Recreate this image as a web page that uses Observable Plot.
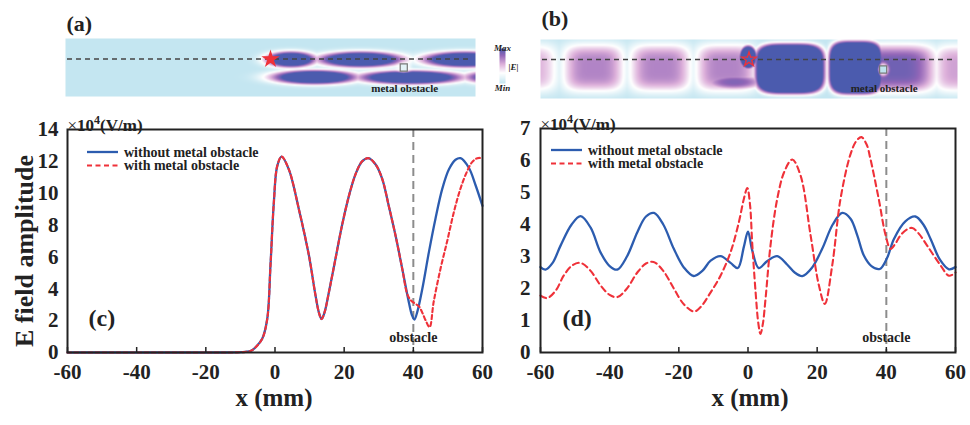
<!DOCTYPE html>
<html><head><meta charset="utf-8">
<script src="https://cdn.jsdelivr.net/npm/d3@7"></script>
<script src="https://cdn.jsdelivr.net/npm/@observablehq/plot@0.6"></script>
<style>
body{margin:0;background:#fff}
#root{position:relative;width:970px;height:425px;overflow:hidden;background:#fff;font-family:"Liberation Serif",serif}
.abs{position:absolute}
</style></head><body><div id="root"></div>
<script>
// ---------- data ----------
const xTicks = [-60, -40, -20, 0, 20, 40, 60];
const yTicksC = [0, 2, 4, 6, 8, 10, 12, 14];
const yTicksD = [0, 1, 2, 3, 4, 5, 6, 7];
const obstacleX = 40;
const seriesNames = ["without metal obstacle", "with metal obstacle"];
const unitLabel = "×10^4(V/m)";

// panel (c): [x mm, |E| ×1e4 V/m]
const cBlue = [[-60,0],[-45,0],[-30,0],[-18,0],[-11,0.01],[-8.5,0.04],[-7,0.1],[-5.6,0.33],[-3.7,0.86],[-2.25,2.1],[-1.3,5.5],[-0.34,9.4],[0.64,11.7],[1.9,12.3],[4,11.5],[6.9,9.0],[9.8,6.1],[11.7,3.6],[12.7,2.5],[13.45,2.1],[14.3,2.5],[15.6,3.8],[17.5,5.9],[19.4,8.0],[21.4,9.85],[23.3,11.2],[25.2,12.0],[27,12.2],[29.1,11.8],[31,10.9],[32.9,9.2],[34.9,7.3],[36.8,5.25],[38.7,3.16],[39.6,2.35],[40.3,2.07],[41.2,2.6],[42.6,4.0],[44.5,6.3],[46.4,8.4],[48.4,10.3],[50.3,11.5],[52.2,12.1],[53.65,12.2],[56.05,11.6],[58,10.5],[60,9.2]];
const cRed = [[-60,0],[-45,0],[-30,0],[-18,0],[-11,0.01],[-8.5,0.04],[-7,0.1],[-5.6,0.33],[-3.7,0.86],[-2.25,2.1],[-1.3,5.5],[-0.34,9.4],[0.64,11.7],[1.9,12.3],[4,11.5],[6.9,9.0],[9.8,6.1],[11.7,3.6],[12.7,2.5],[13.45,2.1],[14.3,2.5],[15.6,3.8],[17.5,5.9],[19.4,8.0],[21.4,9.85],[23.3,11.2],[25.2,12.0],[27,12.2],[29.1,11.8],[31,10.9],[32.9,9.2],[34.9,7.3],[36.8,5.25],[38.2,3.7],[39.2,3.3],[40.3,3.1],[41.6,2.9],[42.6,2.5],[43.7,1.95],[44.7,1.59],[45.9,3.2],[47.9,5.3],[49.8,7.0],[51.7,8.8],[53.65,10.3],[55.6,11.4],[57,11.95],[58.5,12.2],[60,12.2]];

// panel (d)
const dBlue = [[-60,2.67],[-58.55,2.59],[-56.5,2.8],[-54.2,3.34],[-51,4.0],[-48.4,4.26],[-45.5,3.9],[-42.65,3.13],[-40,2.7],[-37.8,2.59],[-35,3.0],[-32,3.76],[-29.5,4.25],[-27.2,4.36],[-24.5,4.0],[-21.45,3.24],[-18.5,2.65],[-15.7,2.39],[-13.2,2.55],[-10.8,2.87],[-7.95,3.01],[-5.05,2.8],[-2.94,2.64],[-1.2,3.3],[0,3.78],[1.2,3.2],[3.1,2.64],[5.6,2.86],[8.45,3.01],[11.3,2.75],[13.5,2.5],[15.7,2.39],[18.5,2.65],[21.45,3.24],[24.5,4.0],[27.25,4.36],[29.65,4.18],[31.6,3.66],[33.5,3.03],[35.7,2.7],[38.1,2.61],[40.2,2.95],[42.2,3.55],[45.5,4.1],[48.4,4.25],[50.7,4.0],[52.8,3.55],[55.5,2.9],[58.1,2.6],[60,2.67]];
const dRed = [[-60,1.78],[-58.1,1.7],[-55.5,1.95],[-53.3,2.4],[-50.8,2.72],[-48.4,2.8],[-45.5,2.55],[-42.65,2.1],[-40,1.8],[-37.8,1.73],[-35,2.0],[-32,2.5],[-29.5,2.78],[-27.3,2.83],[-24.5,2.55],[-21.45,2.0],[-18.5,1.5],[-15.6,1.28],[-13.7,1.42],[-10.8,1.88],[-7.95,2.4],[-5.05,3.13],[-2.65,4.07],[-1.2,4.8],[-0.2,5.14],[0.6,4.6],[1.2,3.45],[2.2,1.88],[3.0,0.9],[3.6,0.58],[4.3,0.9],[5.07,1.68],[6.5,3.34],[8.45,4.8],[10.5,5.65],[12.8,6.03],[15.2,5.53],[18.1,3.66],[20.5,2.1],[22.2,1.52],[24.35,2.72],[26.75,4.8],[29.65,6.2],[31.4,6.62],[32.8,6.73],[34.3,6.5],[35.4,6.05],[37.8,4.8],[39.8,3.66],[41.2,3.24],[42.6,3.4],[44.1,3.66],[46,3.85],[47.5,3.89],[49.5,3.7],[51.8,3.34],[55.7,2.72],[58.1,2.4],[60,2.5]];

// field maps (a),(b): blobs [cx mm, cy, rx, ry, amplitude, shape q, sharpness s]
const probeY = 20.5;
const sourceA = {x: 0, y: 20.7};
const sourceB = {x: 0, y: 20};
const obstacleA = {x: 39, y: 29};
const obstacleB = {x: 38.6, y: 30};
const blobsA = [[6,21,7.5,8,1.5,2,1.5],[26.4,21,12.7,8,1.5,2,1.5],[57,21,12.7,8,1.5,2,1.5],[12.9,38.7,12.8,7.2,1.5,2,1.5],[41,38.9,15.5,7,1.5,2,1.5],[70,38.7,12.8,7.2,1.5,2,1.5]];
const holesA = [[39,29,2.2,5]];
const blobsB = [[-64,28.5,9,24,0.55,4,1],[-44.7,28.5,9,24,0.7,4,1],[-25.5,28.5,9,24,0.7,4,1],[-6.5,28.5,9,24,0.7,4,1],[-4.3,42.5,9,8,0.85,2,1.5],[-0.25,17.7,2.45,11.4,1.8,2,2],[11.8,29.3,10,25,1.8,4,2],[30.7,28.2,7.7,26.5,1.8,4,2],[42,29,12,24,0.9,4,1],[61,29,8,24,0.6,4,1]];
const holesB = [[38.6,30,1.6,6.5]];
const fieldStops = [0, 0.3, 0.55, 0.8, 1];
const fieldColors = ["#c4e6f1", "#ffffff", "#ddb0da", "#9467b8", "#4b5bae"];

// ---------- drawing ----------
const root = document.getElementById("root");
const font = "Liberation Serif";
const ink = "#222";
const blueColor = "#2c5caf";
const redColor = "#ef3139";
const baseStyle = {fontFamily: font, background: "transparent", maxWidth: "none", overflow: "visible", color: ink};
const colorScale = {type: "linear", domain: fieldStops, range: fieldColors, clamp: true, interpolate: "rgb"};

function place(el, left, top) {
  const d = document.createElement("div");
  d.className = "abs"; d.style.left = left + "px"; d.style.top = top + "px";
  d.appendChild(el); root.appendChild(d); return d;
}

function field(blobs, holes) {
  return (x, y) => {
    let v = 0;
    for (const [cx, cy, rx, ry, a, q, s] of blobs) {
      const d = Math.pow(Math.abs((x - cx) / rx), q) + Math.pow(Math.abs((y - cy) / ry), q);
      v = Math.max(v, a * Math.exp(-Math.pow(d, s)));
    }
    for (const [hx, hy, hr, hry] of holes) {
      const d = ((x - hx) / hr) ** 2 + ((y - hy) / hry) ** 2;
      const h = Math.exp(-d * d);
      v = v * (1 - h) + 0.3 * h;
    }
    return v;
  };
}

function heat(o) {
  return Plot.plot({
    width: o.width, height: 100,
    marginLeft: o.mL, marginRight: o.mR, marginTop: o.mT, marginBottom: o.mB,
    x: {domain: [-60, 60], axis: null},
    y: {domain: [o.h, 0], axis: null},
    color: colorScale,
    style: baseStyle,
    marks: [
      Plot.raster({fill: field(o.blobs, o.holes), x1: -60, x2: 60, y1: 0, y2: o.h}),
      Plot.ruleY([o.probe], {y: d => d, stroke: "#444", strokeWidth: 1.7, strokeDasharray: "5,4", insetLeft: 2, insetRight: 4}),
      Plot.dot([o.obstacle], {x: "x", y: "y", symbol: "square", r: 4, stroke: "#777", strokeWidth: 1.2, fill: o.obsFill}),
      Plot.text([o.obstacle], {x: "x", y: "y", text: () => "metal obstacle", dy: o.textDy, dx: 1, fontSize: 11, fontWeight: "bold", fill: ink}),
      Plot.dot([o.source], {x: "x", y: "y", symbol: "star", r: 4.5, fill: o.starFill, stroke: redColor, strokeWidth: 1.3}),
      Plot.text([o.tag], {text: d => d, frameAnchor: "top-left", textAnchor: "start", dx: 1, dy: o.tagDy, fontSize: 22, fontWeight: "bold", fill: ink})
    ]
  });
}

function panel(o) {
  const marks = [
    Plot.ruleX([obstacleX], {x: d => d, stroke: "#8c8c8c", strokeWidth: 2, strokeDasharray: "8,5"}),
    Plot.text([obstacleX], {x: d => d, text: () => "obstacle", frameAnchor: "bottom", dy: -11, fontSize: 14, fontWeight: "bold", fill: ink}),
    Plot.line(o.blue, {x: d => d[0], y: d => d[1], stroke: blueColor, strokeWidth: 2.3, curve: "catmull-rom"}),
    Plot.line(o.red, {x: d => d[0], y: d => d[1], stroke: redColor, strokeWidth: 2.1, strokeDasharray: o.dash, curve: "catmull-rom"}),
    Plot.frame({stroke: ink, strokeWidth: 2}),
    Plot.axisX({ticks: xTicks, tickFormat: d => String(d), tickSize: -5, tickPadding: 17, fontSize: 21, fontWeight: "bold", strokeWidth: 1.5, label: null}),
    Plot.axisY({ticks: o.yTicks, tickFormat: d => String(d), tickSize: 0, tickPadding: o.yPad, fontSize: 21, fontWeight: "bold", label: null}),
    Plot.text([o.tag], {text: d => d, frameAnchor: "bottom-left", textAnchor: "start", dx: o.tagDx, dy: -27, fontSize: 24, fontWeight: "bold", fill: ink}),
    Plot.text([unitLabel], {text: d => d, frameAnchor: "top-left", textAnchor: "start", dx: 0, dy: -11, fontSize: 17, fontWeight: "bold", fill: ink}),
    Plot.text(["x (mm)"], {text: d => d, frameAnchor: "bottom", dy: 53, dx: o.xlDx, fontSize: 25, fontWeight: "bold", fill: ink})
  ];
  if (o.yLabel) marks.push(Plot.text([o.yLabel], {text: d => d, frameAnchor: "left", textAnchor: "middle", dx: -43, dy: 10, rotate: -90, fontSize: 26, fontWeight: "bold", fill: ink}));
  const svg = Plot.plot({
    width: o.width, height: 325,
    marginLeft: o.mL, marginRight: o.mR, marginTop: o.mT, marginBottom: 73,
    x: {domain: [-60, 60]},
    y: {domain: o.yDomain},
    style: baseStyle,
    marks
  });
  // superscript in unit label
  svg.querySelectorAll("text").forEach(t => {
    if (t.textContent === unitLabel) {
      const host = t.querySelector("tspan") || t;
      host.textContent = "";
      const ns = "http://www.w3.org/2000/svg";
      const parts = [["×", {"font-weight": "normal"}], ["10", {}], ["4", {"font-size": 12, dy: -7}], ["(V/m)", {dy: 7}]];
      for (const [s, attrs] of parts) {
        const ts = document.createElementNS(ns, "tspan");
        for (const k in attrs) ts.setAttribute(k, attrs[k]);
        ts.textContent = s; host.appendChild(ts);
      }
    }
  });
  return svg;
}

function legend(left, top) {
  const ns = "http://www.w3.org/2000/svg";
  const svg = document.createElementNS(ns, "svg");
  svg.setAttribute("width", 260); svg.setAttribute("height", 30);
  svg.style.fontFamily = font; svg.style.fontWeight = "bold"; svg.style.fontSize = "14px";
  const rows = [[blueColor, null, 2.3], [redColor, "5,3.5", 2.1]];
  rows.forEach(([c, dash, w], i) => {
    const y = 8 + i * 13.5;
    const l = document.createElementNS(ns, "line");
    l.setAttribute("x1", 0); l.setAttribute("x2", 31); l.setAttribute("y1", y); l.setAttribute("y2", y);
    l.setAttribute("stroke", c); l.setAttribute("stroke-width", w);
    if (dash) l.setAttribute("stroke-dasharray", dash);
    svg.appendChild(l);
    const t = document.createElementNS(ns, "text");
    t.setAttribute("x", 37); t.setAttribute("y", y + 4.5); t.setAttribute("fill", ink);
    t.textContent = seriesNames[i];
    svg.appendChild(t);
  });
  place(svg, left, top);
}

function colorbar() {
  const svg = Plot.plot({
    width: 40, height: 60, marginLeft: 9, marginRight: 25, marginTop: 8, marginBottom: 17,
    x: {domain: [0, 1], axis: null}, y: {domain: [0, 1], axis: null},
    color: colorScale, style: baseStyle,
    marks: [
      Plot.raster({fill: (x, y) => y, x1: 0, x2: 1, y1: 0, y2: 1}),
      Plot.text(["Max"], {text: d => d, frameAnchor: "top", dy: -4, fontSize: 9, fontWeight: "bold", fontStyle: "italic", fill: ink}),
      Plot.text(["Min"], {text: d => d, frameAnchor: "bottom", dy: 7, fontSize: 9, fontWeight: "bold", fontStyle: "italic", fill: ink}),
      Plot.text(["|E|"], {text: d => d, frameAnchor: "right", textAnchor: "start", dx: 3, dy: 1, fontSize: 9, fontWeight: "bold", fontStyle: "italic", fill: ink})
    ]
  });
  place(svg, 490, 40);
}

place(heat({width: 490, mL: 65, mR: 15, mT: 38, mB: 4, h: 58, blobs: blobsA, holes: holesA, probe: probeY, obstacle: obstacleA, source: sourceA, obsFill: "#e4f2f6", starFill: redColor, textDy: 21, tag: "(a)", tagDy: -23}), 0, 0);
place(heat({width: 480, mL: 50, mR: 13, mT: 39, mB: 2, h: 59, blobs: blobsB, holes: holesB, probe: 20, obstacle: obstacleB, source: sourceB, obsFill: "#bfe3ee", starFill: "#5060b0", textDy: 19, tag: "(b)", tagDy: -29}), 490, 0);
colorbar();

place(panel({width: 490, mL: 67, mR: 8, mT: 29, blue: cBlue, red: cRed, yDomain: [0, 14], yTicks: yTicksC, yPad: 9, tag: "(c)", tagDx: 21, dash: "4,3", xlDx: -1, yLabel: "E field amplitude"}), 0, 100);
place(panel({width: 480, mL: 50, mR: 15, mT: 28, blue: dBlue, red: dRed, yDomain: [0, 7], yTicks: yTicksD, yPad: 10, tag: "(d)", tagDx: 22, dash: "6,4", xlDx: 2}), 490, 100);

legend(87, 144);
legend(551, 142);
</script></body></html>
